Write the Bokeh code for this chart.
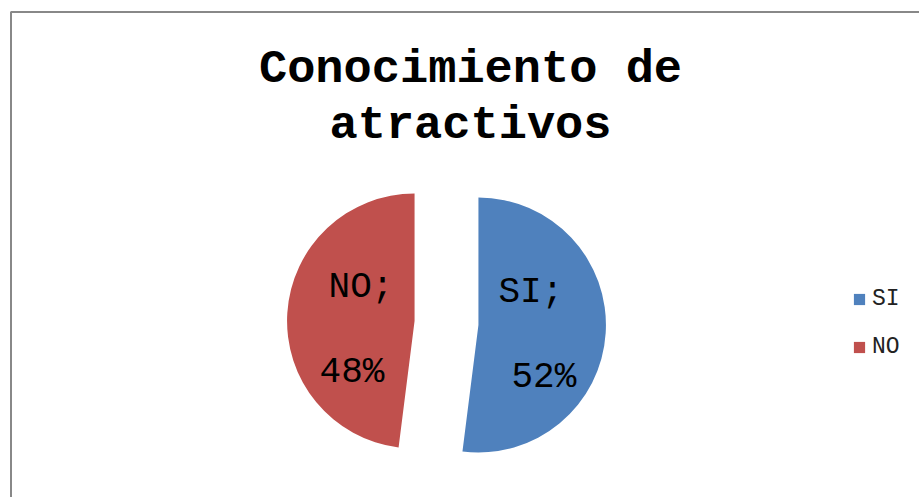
import numpy as np
from bokeh.plotting import figure
from bokeh.models import Range1d, ColumnDataSource, Legend, LegendItem, Label
from bokeh.embed import file_html
from bokeh.resources import INLINE

# ---- data ----
categories = ["SI", "NO"]
percents = [52, 48]
colors = ["#4F81BD", "#C0504D"]
title_lines = ["Conocimiento de", "atractivos"]

W, H = 919, 497

def Y(py):
    # pixel row (from top) -> data y
    return H - py

p = figure(width=W, height=H, output_backend="svg", toolbar_location=None,
           x_range=Range1d(0, W), y_range=Range1d(0, H),
           min_border=0, outline_line_color=None)
p.axis.visible = False
p.grid.visible = False
p.background_fill_color = "white"
p.border_fill_color = "white"

# chart border (cropped on right/bottom)
p.line(x=[10.5, 10.5, 940], y=[Y(520), Y(11.5), Y(11.5)], line_color="#888888", line_width=2)

# title
for i, t in enumerate(title_lines):
    p.add_layout(Label(x=470, y=Y(69 + 56 * i), text=t, text_align="center",
                       text_baseline="alphabetic", text_font="Liberation Mono",
                       text_font_style="bold", text_font_size="47px", text_color="black"))

# pie geometry (clockwise from 12 o'clock, exploded)
vals = np.array(percents, dtype=float)
frac = vals / vals.sum()
cum = np.concatenate([[0], np.cumsum(frac)])
theta0 = cum[:-1] * 2 * np.pi
theta1 = cum[1:] * 2 * np.pi
cx, cy = 446.0, Y(322.5)
r = 127.5
explode = 32.0
mid = (theta0 + theta1) / 2
xs = cx + explode * np.sin(mid)
ys = cy + explode * np.cos(mid)
start = np.pi / 2 - theta1
end = np.pi / 2 - theta0

src = ColumnDataSource(dict(x=xs, y=ys, start=start, end=end, color=colors, cat=categories))
wr = p.wedge(x="x", y="y", radius=r, start_angle="start", end_angle="end",
             fill_color="color", line_color=None, source=src)

# data labels
lab_off = {"SI": [(20, -33), (33, 52)], "NO": [(-86, -33), (-95, 52)]}
lx, ly, lt = [], [], []
for i, c in enumerate(categories):
    (dx1, dy1), (dx2, dy2) = lab_off[c]
    lx += [xs[i] + dx1, xs[i] + dx2]
    ly += [ys[i] - dy1, ys[i] - dy2]
    lt += [f"{c};", f"{percents[i]}%"]
p.text(x=lx, y=ly, text=lt, text_font={"value": "Liberation Mono"}, text_font_size="36px",
       text_align="left", text_baseline="alphabetic", text_color="black")

# legend
items = [LegendItem(label=c, renderers=[wr], index=i) for i, c in enumerate(categories)]
legend = Legend(items=items, location=(852, 137), orientation="vertical",
                glyph_width=14, glyph_height=14, label_height=24, spacing=22,
                padding=0, margin=0, border_line_color=None, background_fill_alpha=0,
                label_text_font="Liberation Mono", label_text_font_size="23px",
                label_standoff=6, label_text_color="#222222")
p.add_layout(legend, "center")

open("out.html", "w").write(file_html(p, INLINE))
